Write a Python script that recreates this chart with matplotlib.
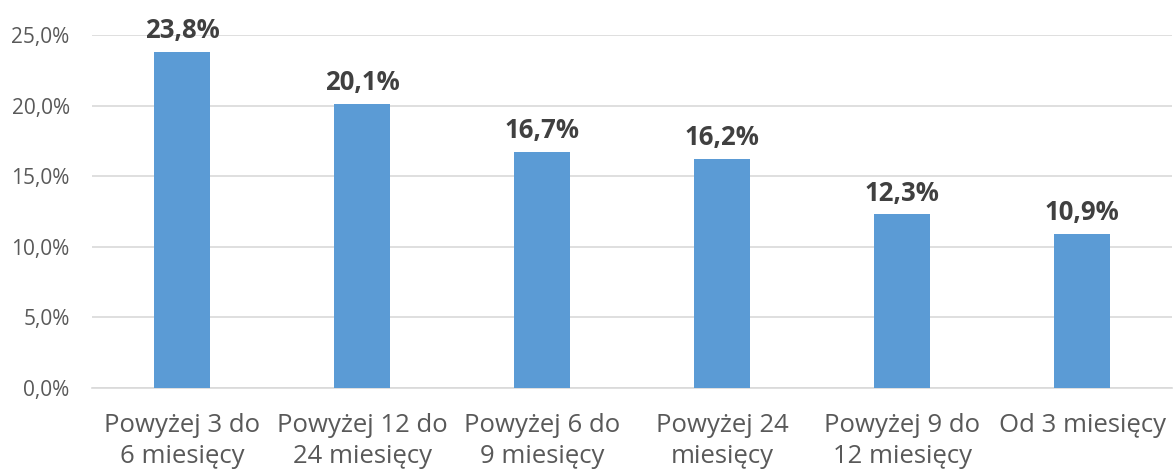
import matplotlib.pyplot as plt
from matplotlib.ticker import FuncFormatter

categories = ["Powyżej 3 do\n6 miesięcy", "Powyżej 12 do\n24 miesięcy", "Powyżej 6 do\n9 miesięcy",
              "Powyżej 24\nmiesięcy", "Powyżej 9 do\n12 miesięcy", "Od 3 miesięcy"]
values = [23.8, 20.1, 16.7, 16.2, 12.3, 10.9]
yticks = [0, 5, 10, 15, 20, 25]

plt.rcParams['font.family'] = ['Open Sans', 'DejaVu Sans']
text_color = '#595959'

fig = plt.figure(figsize=(11.73, 4.74), dpi=100)
ax = fig.add_axes([0.0784, 0.1814, 0.921, 0.7448])

x = range(len(values))
ax.bar(x, values, width=0.31, color='#5B9BD5', zorder=3)

for i, v in enumerate(values):
    ax.text(i, v + 0.55, f'{v:.1f}%'.replace('.', ','), ha='center', va='bottom',
            fontsize=18.5, fontweight='bold', color='#404040')

ax.set_xlim(-0.5, len(values) - 0.5)
ax.set_ylim(0, 25)
ax.set_yticks(yticks)
ax.yaxis.set_major_formatter(FuncFormatter(lambda v, p: f'{v:.1f}%'.replace('.', ',')))
ax.set_xticks(list(x))
ax.set_xticklabels(categories, fontsize=18.5, color=text_color, linespacing=1.3)
ax.tick_params(axis='y', labelsize=15, colors=text_color, length=0, pad=16)
ax.tick_params(axis='x', length=0, pad=18)

ax.grid(axis='y', color='#D9D9D9', linewidth=1.2, zorder=0)
for s in ['top', 'right', 'left']:
    ax.spines[s].set_visible(False)
ax.spines['bottom'].set_color('#D9D9D9')
ax.spines['bottom'].set_linewidth(1.2)

fig.savefig('out.png', dpi=100)
